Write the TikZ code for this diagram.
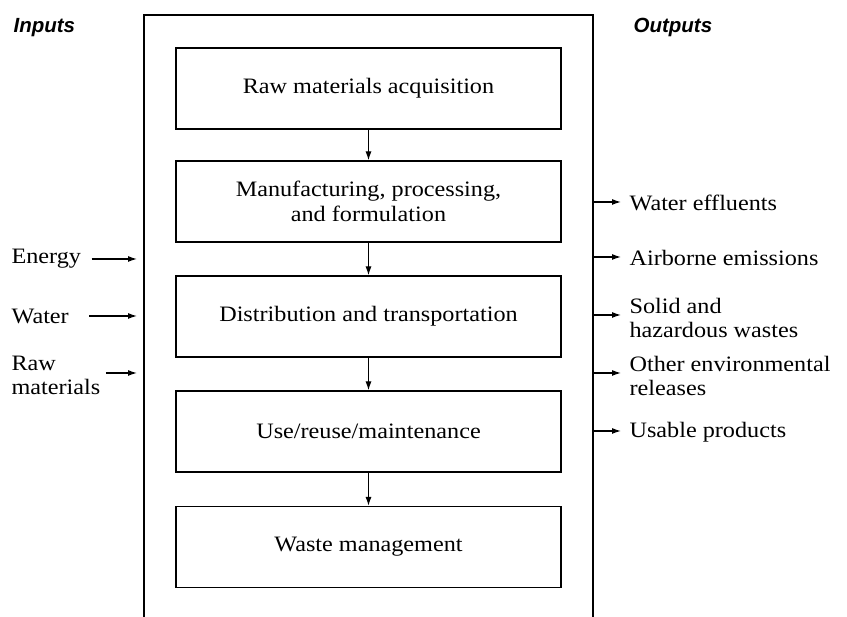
\documentclass[tikz,border=0pt]{standalone}
\usepackage{fontspec}
\setmainfont{Liberation Serif}[FakeStretch=1.1]
\newfontfamily\headfont{Liberation Sans}
\usetikzlibrary{arrows.meta}

\begin{document}
\begin{tikzpicture}[x=1pt,y=-1pt,line width=1.2pt]
		\tikzset{stage/.style={draw, minimum width=385pt, minimum height=81pt, inner sep=0pt, align=center, font=\fontsize{22}{25}\selectfont},
			flow/.style={-{Latex[length=9pt,width=6pt]}},
			lab/.style={inner sep=0pt, align=left, font=\fontsize{22}{24}\selectfont},
			head/.style={inner sep=0pt, anchor=base west, font=\headfont\bfseries\itshape\fontsize{20.5}{22}\selectfont}};
		\useasboundingbox (0,0) rectangle (847,617);
		% frame, open at the bottom
		\draw (144,617) -- (144,15) -- (593,15) -- (593,617);
		\node[head] (inputs) at (13,33) {Inputs};
		\node[head] (outputs) at (633,33) {Outputs};
		% stages
		\node[stage] (acq) at (368.5,88.5) {Raw materials acquisition};
		\node[stage] (manu) at (368.5,201.5) {Manufacturing, processing,\\and formulation};
		\node[stage] (dist) at (368.5,316.5) {Distribution and transportation};
		\node[stage] (use) at (368.5,431.5) {Use/reuse/maintenance};
		\node[stage] (waste) at (368.5,547) {Waste management};
		\draw[flow] (acq) -- (manu);
		\draw[flow] (manu) -- (dist);
		\draw[flow] (dist) -- (use);
		\draw[flow] (use) -- (waste);
		% inputs
		\node[lab, anchor=west] (energy) at (11,259) {Energy};
		\node[lab, anchor=west] (water) at (11,316) {Water};
		\node[lab, anchor=west] (rawmat) at (11,375) {Raw\\materials};
		\coordinate (energyin) at (137,259);
		\coordinate (waterin) at (137,316);
		\coordinate (rawin) at (137,373);
		\draw[flow, shorten <=10pt] (energy.east) -- (energyin);
		\draw[flow, shorten <=20pt] (water.east) -- (waterin);
		\draw[flow, shorten <=5pt] (rawmat.east |- rawin) -- (rawin);
		% outputs
		\node[lab, anchor=west] (effl) at (629,203) {Water effluents};
		\node[lab, anchor=west] (air) at (629,258) {Airborne emissions};
		\node[lab, anchor=west] (solid) at (629,318) {Solid and\\hazardous wastes};
		\node[lab, anchor=west] (other) at (629,376) {Other environmental\\releases};
		\node[lab, anchor=west] (usable) at (629,432) {Usable products};
		\coordinate (efflout) at (593,202);
		\coordinate (airout) at (593,257);
		\coordinate (solidout) at (593,315);
		\coordinate (otherout) at (593,373);
		\coordinate (usableout) at (593,431);
		\draw[flow, shorten >=8pt] (efflout) -- (effl.west |- efflout);
		\draw[flow, shorten >=8pt] (airout) -- (air.west |- airout);
		\draw[flow, shorten >=8pt] (solidout) -- (solid.west |- solidout);
		\draw[flow, shorten >=8pt] (otherout) -- (other.west |- otherout);
		\draw[flow, shorten >=8pt] (usableout) -- (usable.west |- usableout);
\end{tikzpicture}
\end{document}
